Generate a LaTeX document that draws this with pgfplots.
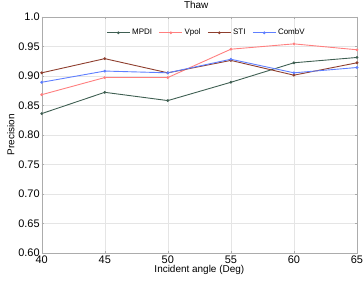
\documentclass[border=0pt]{standalone}
\usepackage{pgfplots}
\pgfplotsset{compat=1.18}
\usepackage{fontspec}
\setmainfont{Liberation Sans}
\definecolor{cM}{HTML}{3F5F52}
\definecolor{cV}{HTML}{FF7F7F}
\definecolor{cS}{HTML}{8E3E2E}
\definecolor{cC}{HTML}{5F7FFF}
\begin{document}
\begin{tikzpicture}
\begin{axis}[
  scale only axis,
  width=315.3bp, height=236.3bp,
  xmin=40, xmax=65, ymin=0.6, ymax=1.0,
  xtick={40,45,...,65},
  ytick={0.6,0.65,...,1.0},
  yticklabels={0.60,0.65,0.70,0.75,0.80,0.85,0.90,0.95,1.0},
  /pgf/number format/assume math mode=true,
  tick label style={font=\fontsize{11}{12}\selectfont},
  xticklabel style={yshift=1pt},
  yticklabel style={xshift=1.5pt},
  grid=major,
  grid style={gray!20},
  axis line style={gray!65},
  tick style={gray!65},
  tick align=inside,
  major tick length=2pt,
  title={Thaw},
  title style={font=\fontsize{10}{11}\selectfont, at={(0.49,1)}, anchor=south, yshift=-1.5pt},
  xlabel={Incident angle (Deg)},
  ylabel={Precision},
  xlabel style={font=\fontsize{10}{11}\selectfont, yshift=5pt},
  ylabel style={font=\fontsize{10}{11}\selectfont, yshift=-3pt},
  legend style={draw=none, fill=none, at={(0.523,0.965)}, anchor=north, legend columns=4, font=\fontsize{8}{9}\selectfont, /tikz/every even column/.append style={column sep=5pt}},
  legend image code/.code={\draw[#1,mark repeat=2,mark phase=2] plot coordinates {(0cm,0cm) (0.4cm,0cm) (0.8cm,0cm)};},
  legend cell align=left,
  every axis plot/.append style={line width=0.9pt, mark=*, mark size=0.9pt},
]
\addplot[color=cM] coordinates {(40,0.836)(45,0.872)(50,0.858)(55,0.889)(60,0.922)(65,0.931)};
\addlegendentry{MPDI}
\addplot[color=cV] coordinates {(40,0.868)(45,0.897)(50,0.897)(55,0.945)(60,0.954)(65,0.944)};
\addlegendentry{Vpol}
\addplot[color=cS] coordinates {(40,0.905)(45,0.929)(50,0.905)(55,0.926)(60,0.901)(65,0.922)};
\addlegendentry{STI}
\addplot[color=cC] coordinates {(40,0.889)(45,0.908)(50,0.905)(55,0.928)(60,0.905)(65,0.914)};
\addlegendentry{CombV}
\end{axis}
\pgfresetboundingbox
\path[use as bounding box] (-41.7bp,-28bp) rectangle (321.3bp,253bp);
\end{tikzpicture}
\end{document}
